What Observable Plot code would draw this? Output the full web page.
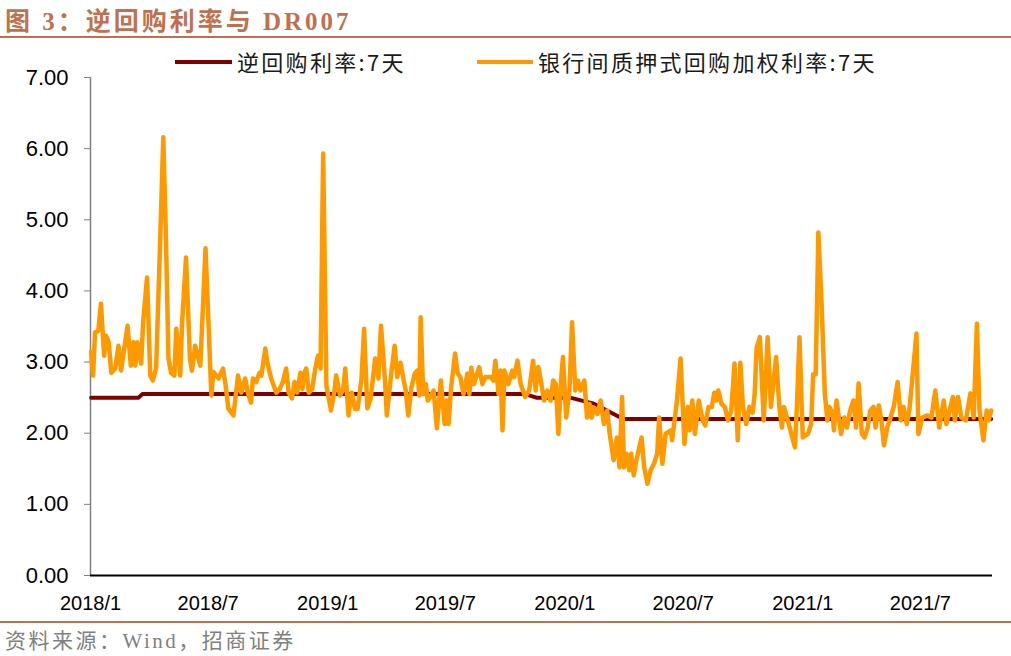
<!DOCTYPE html>
<html>
<head>
<meta charset="utf-8">
<script src="https://cdn.jsdelivr.net/npm/d3@7"></script>
<script src="https://cdn.jsdelivr.net/npm/@observablehq/plot@0.6"></script>
<style>
  html, body { margin: 0; padding: 0; background: #fff; }
  #wrap { position: relative; width: 1011px; height: 656px; overflow: hidden; background: #fff; }
  .title { position: absolute; left: 5px; top: 1px; font-family: "Liberation Serif", "Noto Sans CJK SC", serif; font-weight: bold; font-size: 25px; color: #C0704F; letter-spacing: 3px; white-space: nowrap; }
  .rule { position: absolute; left: 0; width: 1011px; height: 2px; background: #C0704F; }
  .footer { position: absolute; left: 5px; top: 624px; font-family: "Liberation Serif", "Noto Sans CJK SC", serif; font-size: 21px; color: #808080; letter-spacing: 2.5px; white-space: nowrap; }
  .lg-line { position: absolute; height: 4px; }
  .lg-text { position: absolute; font-family: "Noto Sans CJK SC", "Liberation Sans", sans-serif; font-size: 22px; color: #1a1a1a; line-height: 26px; letter-spacing: 2.3px; white-space: nowrap; }
  #chart { position: absolute; left: 0; top: 63px; }
</style>
</head>
<body>
<div id="wrap">
  <div class="title">图 3：逆回购利率与 DR007</div>
  <div class="rule" style="top:36px"></div>
  <div class="lg-line" style="left:175px;top:60px;width:57px;background:#7F0000"></div>
  <div class="lg-text" style="left:237px;top:48px">逆回购利率:7天</div>
  <div class="lg-line" style="left:477px;top:60px;width:56px;background:#FF9900"></div>
  <div class="lg-text" style="left:538px;top:48px">银行间质押式回购加权利率:7天</div>
  <div id="chart"></div>
  <div class="rule" style="top:621px"></div>
  <div class="footer">资料来源：Wind，招商证券</div>
</div>
<script>
// Reverse repo rate (7-day)
const repoDates = ["2018-01-02","2018-03-16","2018-03-22","2019-11-01","2019-11-18","2020-01-09","2020-02-13","2020-03-31","2021-10-18"];
const repoValues = [2.50,2.50,2.55,2.55,2.50,2.50,2.42,2.20,2.20];

// DR007 (interbank pledged repo weighted rate, 7-day)
const dr007Dates = [
"2018-01-02","2018-01-05","2018-01-08","2018-01-13","2018-01-17","2018-01-22","2018-01-25","2018-01-29","2018-02-02","2018-02-08",
"2018-02-13","2018-02-17","2018-02-27","2018-03-04","2018-03-08","2018-03-11","2018-03-14","2018-03-20","2018-03-23","2018-03-29",
"2018-04-03","2018-04-07","2018-04-12","2018-04-18","2018-04-23","2018-04-27","2018-05-01","2018-05-05","2018-05-10","2018-05-13",
"2018-05-19","2018-05-22","2018-05-28","2018-06-03","2018-06-06","2018-06-11","2018-06-19","2018-06-27","2018-07-06","2018-07-09",
"2018-07-17","2018-07-24","2018-07-28","2018-08-01","2018-08-09","2018-08-16","2018-08-21","2018-08-27","2018-08-31","2018-09-05",
"2018-09-08","2018-09-13","2018-09-18","2018-09-21","2018-09-27","2018-09-30","2018-10-06","2018-10-14","2018-10-19","2018-10-24",
"2018-10-29","2018-11-02","2018-11-07","2018-11-11","2018-11-15","2018-11-20","2018-11-23","2018-11-26","2018-11-29","2018-12-03",
"2018-12-08","2018-12-13","2018-12-17","2018-12-21","2018-12-25","2018-12-30","2019-01-06","2019-01-11","2019-01-14","2019-01-20",
"2019-01-25","2019-01-28","2019-02-02","2019-02-07","2019-02-12","2019-02-16","2019-02-22","2019-02-26","2019-03-03","2019-03-08",
"2019-03-15","2019-03-20","2019-03-24","2019-03-30","2019-04-02","2019-04-08","2019-04-14","2019-04-18","2019-04-23","2019-04-26",
"2019-05-01","2019-05-05","2019-05-10","2019-05-15","2019-05-19","2019-05-22","2019-05-24","2019-05-28","2019-06-01","2019-06-04",
"2019-06-09","2019-06-13","2019-06-18","2019-06-24","2019-06-30","2019-07-03","2019-07-06","2019-07-10","2019-07-16","2019-07-20",
"2019-07-24","2019-07-29","2019-08-04","2019-08-07","2019-08-10","2019-08-14","2019-08-22","2019-08-27","2019-09-01","2019-09-09",
"2019-09-13","2019-09-16","2019-09-21","2019-09-24","2019-09-27","2019-09-30","2019-10-06","2019-10-12","2019-10-15","2019-10-20",
"2019-10-25","2019-11-01","2019-11-07","2019-11-13","2019-11-17","2019-11-21","2019-11-24","2019-11-30","2019-12-05","2019-12-10",
"2019-12-14","2019-12-18","2019-12-22","2019-12-26","2019-12-29","2020-01-03","2020-01-08","2020-01-12","2020-01-17","2020-01-21",
"2020-01-25","2020-01-31","2020-02-04","2020-02-08","2020-02-11","2020-02-15","2020-02-20","2020-02-25","2020-03-01","2020-03-06",
"2020-03-10","2020-03-16","2020-03-21","2020-03-25","2020-03-29","2020-04-01","2020-04-05","2020-04-09","2020-04-12","2020-04-16",
"2020-04-20","2020-04-28","2020-05-02","2020-05-07","2020-05-12","2020-05-17","2020-05-22","2020-05-25","2020-05-30","2020-06-04",
"2020-06-12","2020-06-14","2020-06-21","2020-06-27","2020-07-03","2020-07-08","2020-07-11","2020-07-15","2020-07-19","2020-07-25",
"2020-07-31","2020-08-04","2020-08-09","2020-08-14","2020-08-18","2020-08-21","2020-08-24","2020-08-29","2020-09-03","2020-09-08",
"2020-09-13","2020-09-18","2020-09-23","2020-09-27","2020-10-01","2020-10-06","2020-10-11","2020-10-16","2020-10-19","2020-10-22",
"2020-10-27","2020-11-02","2020-11-08","2020-11-13","2020-11-21","2020-11-26","2020-11-30","2020-12-03","2020-12-09","2020-12-20",
"2020-12-23","2020-12-27","2021-01-01","2021-01-09","2021-01-14","2021-01-17","2021-01-21","2021-01-25","2021-01-30","2021-02-04",
"2021-02-08","2021-02-11","2021-02-16","2021-02-18","2021-02-22","2021-03-01","2021-03-06","2021-03-10","2021-03-15","2021-03-20",
"2021-03-24","2021-03-28","2021-04-02","2021-04-06","2021-04-11","2021-04-15","2021-04-20","2021-04-23","2021-04-28","2021-05-02",
"2021-05-06","2021-05-11","2021-05-16","2021-05-21","2021-05-27","2021-06-01","2021-06-05","2021-06-10","2021-06-14","2021-06-19",
"2021-06-25","2021-06-28","2021-07-04","2021-07-12","2021-07-18","2021-07-24","2021-07-30","2021-08-06","2021-08-10","2021-08-20",
"2021-08-23","2021-08-28","2021-09-02","2021-09-09","2021-09-16","2021-09-21","2021-09-26","2021-09-30","2021-10-06","2021-10-11",
"2021-10-14","2021-10-18"
];
const dr007Values = [
3.14,2.81,3.42,3.44,3.82,3.09,3.37,3.28,2.85,2.91,
3.23,2.88,3.51,2.95,3.28,2.95,3.28,2.98,3.56,4.19,
2.81,2.74,2.92,4.64,6.16,4.78,3.05,2.85,2.81,3.47,
2.81,3.56,4.47,3.05,2.88,3.23,2.95,4.60,2.53,2.86,
2.77,2.91,2.67,2.35,2.25,2.81,2.57,2.77,2.57,2.43,
2.77,2.72,2.85,2.81,3.19,3.00,2.77,2.57,2.62,2.72,
2.91,2.57,2.49,2.72,2.57,2.85,2.62,2.85,2.91,2.57,
2.62,2.91,3.09,2.91,5.93,2.67,2.32,2.57,2.81,2.53,
2.62,2.91,2.25,2.57,2.34,2.34,2.77,3.47,2.35,2.48,
3.05,2.77,3.51,2.77,2.25,2.78,3.23,2.79,2.99,2.84,
2.60,2.25,2.65,2.84,2.88,2.53,3.63,2.55,2.69,2.46,
2.53,2.60,2.07,2.74,2.13,2.46,2.13,2.65,3.12,2.84,
2.79,2.55,2.84,2.55,2.92,2.69,2.93,2.69,2.79,2.79,
2.74,3.02,2.55,2.88,2.04,2.88,2.69,2.88,2.79,3.02,
2.69,2.51,2.60,3.02,2.60,2.93,2.79,2.46,2.60,2.46,
2.74,2.69,1.99,2.74,3.07,2.22,2.60,3.56,2.60,2.74,
2.60,2.74,2.22,2.41,2.22,2.36,2.27,2.46,2.13,2.32,
1.99,1.62,1.94,1.52,2.51,1.52,1.71,1.48,1.71,1.41,
1.62,1.94,1.52,1.29,1.48,1.57,1.71,2.22,1.57,1.99,
2.04,1.90,2.42,3.05,1.85,2.37,2.04,2.46,1.99,2.46,
2.18,2.11,2.37,2.37,2.57,2.46,2.60,2.41,2.37,2.18,
2.32,2.98,1.90,2.99,2.37,2.13,2.37,2.29,2.55,3.20,
3.35,2.18,3.35,2.37,3.07,2.37,2.08,2.37,2.18,1.80,
2.37,3.35,1.94,1.99,2.13,2.83,2.83,4.82,3.82,2.55,
2.18,2.37,2.27,2.04,2.46,1.99,2.22,2.08,2.32,2.46,
2.08,2.70,1.99,1.94,2.08,2.32,2.37,2.08,2.39,2.18,
1.83,2.08,2.22,2.37,2.72,2.18,2.37,2.13,2.32,2.81,
3.40,1.99,2.22,2.25,2.22,2.60,2.08,2.46,2.13,2.51,
2.18,2.51,2.22,2.18,2.56,2.22,3.54,2.32,1.90,2.32,
2.18,2.32
];

// Axis ticks
const xTickDates = ["2018-01-01","2018-07-01","2019-01-01","2019-07-01","2020-01-01","2020-07-01","2021-01-01","2021-07-01"];
const xTickLabels = ["2018/1","2018/7","2019/1","2019/7","2020/1","2020/7","2021/1","2021/7"];
const yTicks = [0,1,2,3,4,5,6,7];

const repo = repoDates.map((d, i) => ({date: new Date(d), value: repoValues[i]}));
const dr007 = dr007Dates.map((d, i) => ({date: new Date(d), value: dr007Values[i]}));
const xTicks = xTickDates.map(d => new Date(d));
const labelMap = new Map(xTicks.map((d, i) => [+d, xTickLabels[i]]));
const x0 = new Date("2018-01-01");
const x1 = new Date("2021-10-20");

const chart = Plot.plot({
  width: 1011,
  height: 557,
  marginLeft: 90,
  marginRight: 19,
  marginTop: 14,
  marginBottom: 45,
  x: {type: "utc", domain: [x0, x1]},
  y: {domain: [0, 7]},
  style: {fontFamily: "'Liberation Sans', Arial, sans-serif", color: "#000", background: "transparent", overflow: "visible"},
  marks: [
    Plot.axisY({ticks: yTicks, tickFormat: d3.format(".2f"), tickSize: 6, tickPadding: 16, fontSize: 22, label: null, stroke: "#808080"}),
    Plot.axisX({ticks: xTicks, tickFormat: d => labelMap.get(+d), tickSize: 0, tickPadding: 20, fontSize: 20, label: null}),
    Plot.ruleX([x0], {stroke: "#808080", strokeWidth: 1.5}),
    Plot.lineY(repo, {x: "date", y: "value", stroke: "#7F0000", strokeWidth: 4}),
    Plot.lineY(dr007, {x: "date", y: "value", stroke: "#FF9900", strokeWidth: 4.5, strokeLinejoin: "round"}),
    Plot.ruleY([0], {stroke: "#000", strokeWidth: 2})
  ]
});
document.getElementById("chart").appendChild(chart);
</script>
</body>
</html>
